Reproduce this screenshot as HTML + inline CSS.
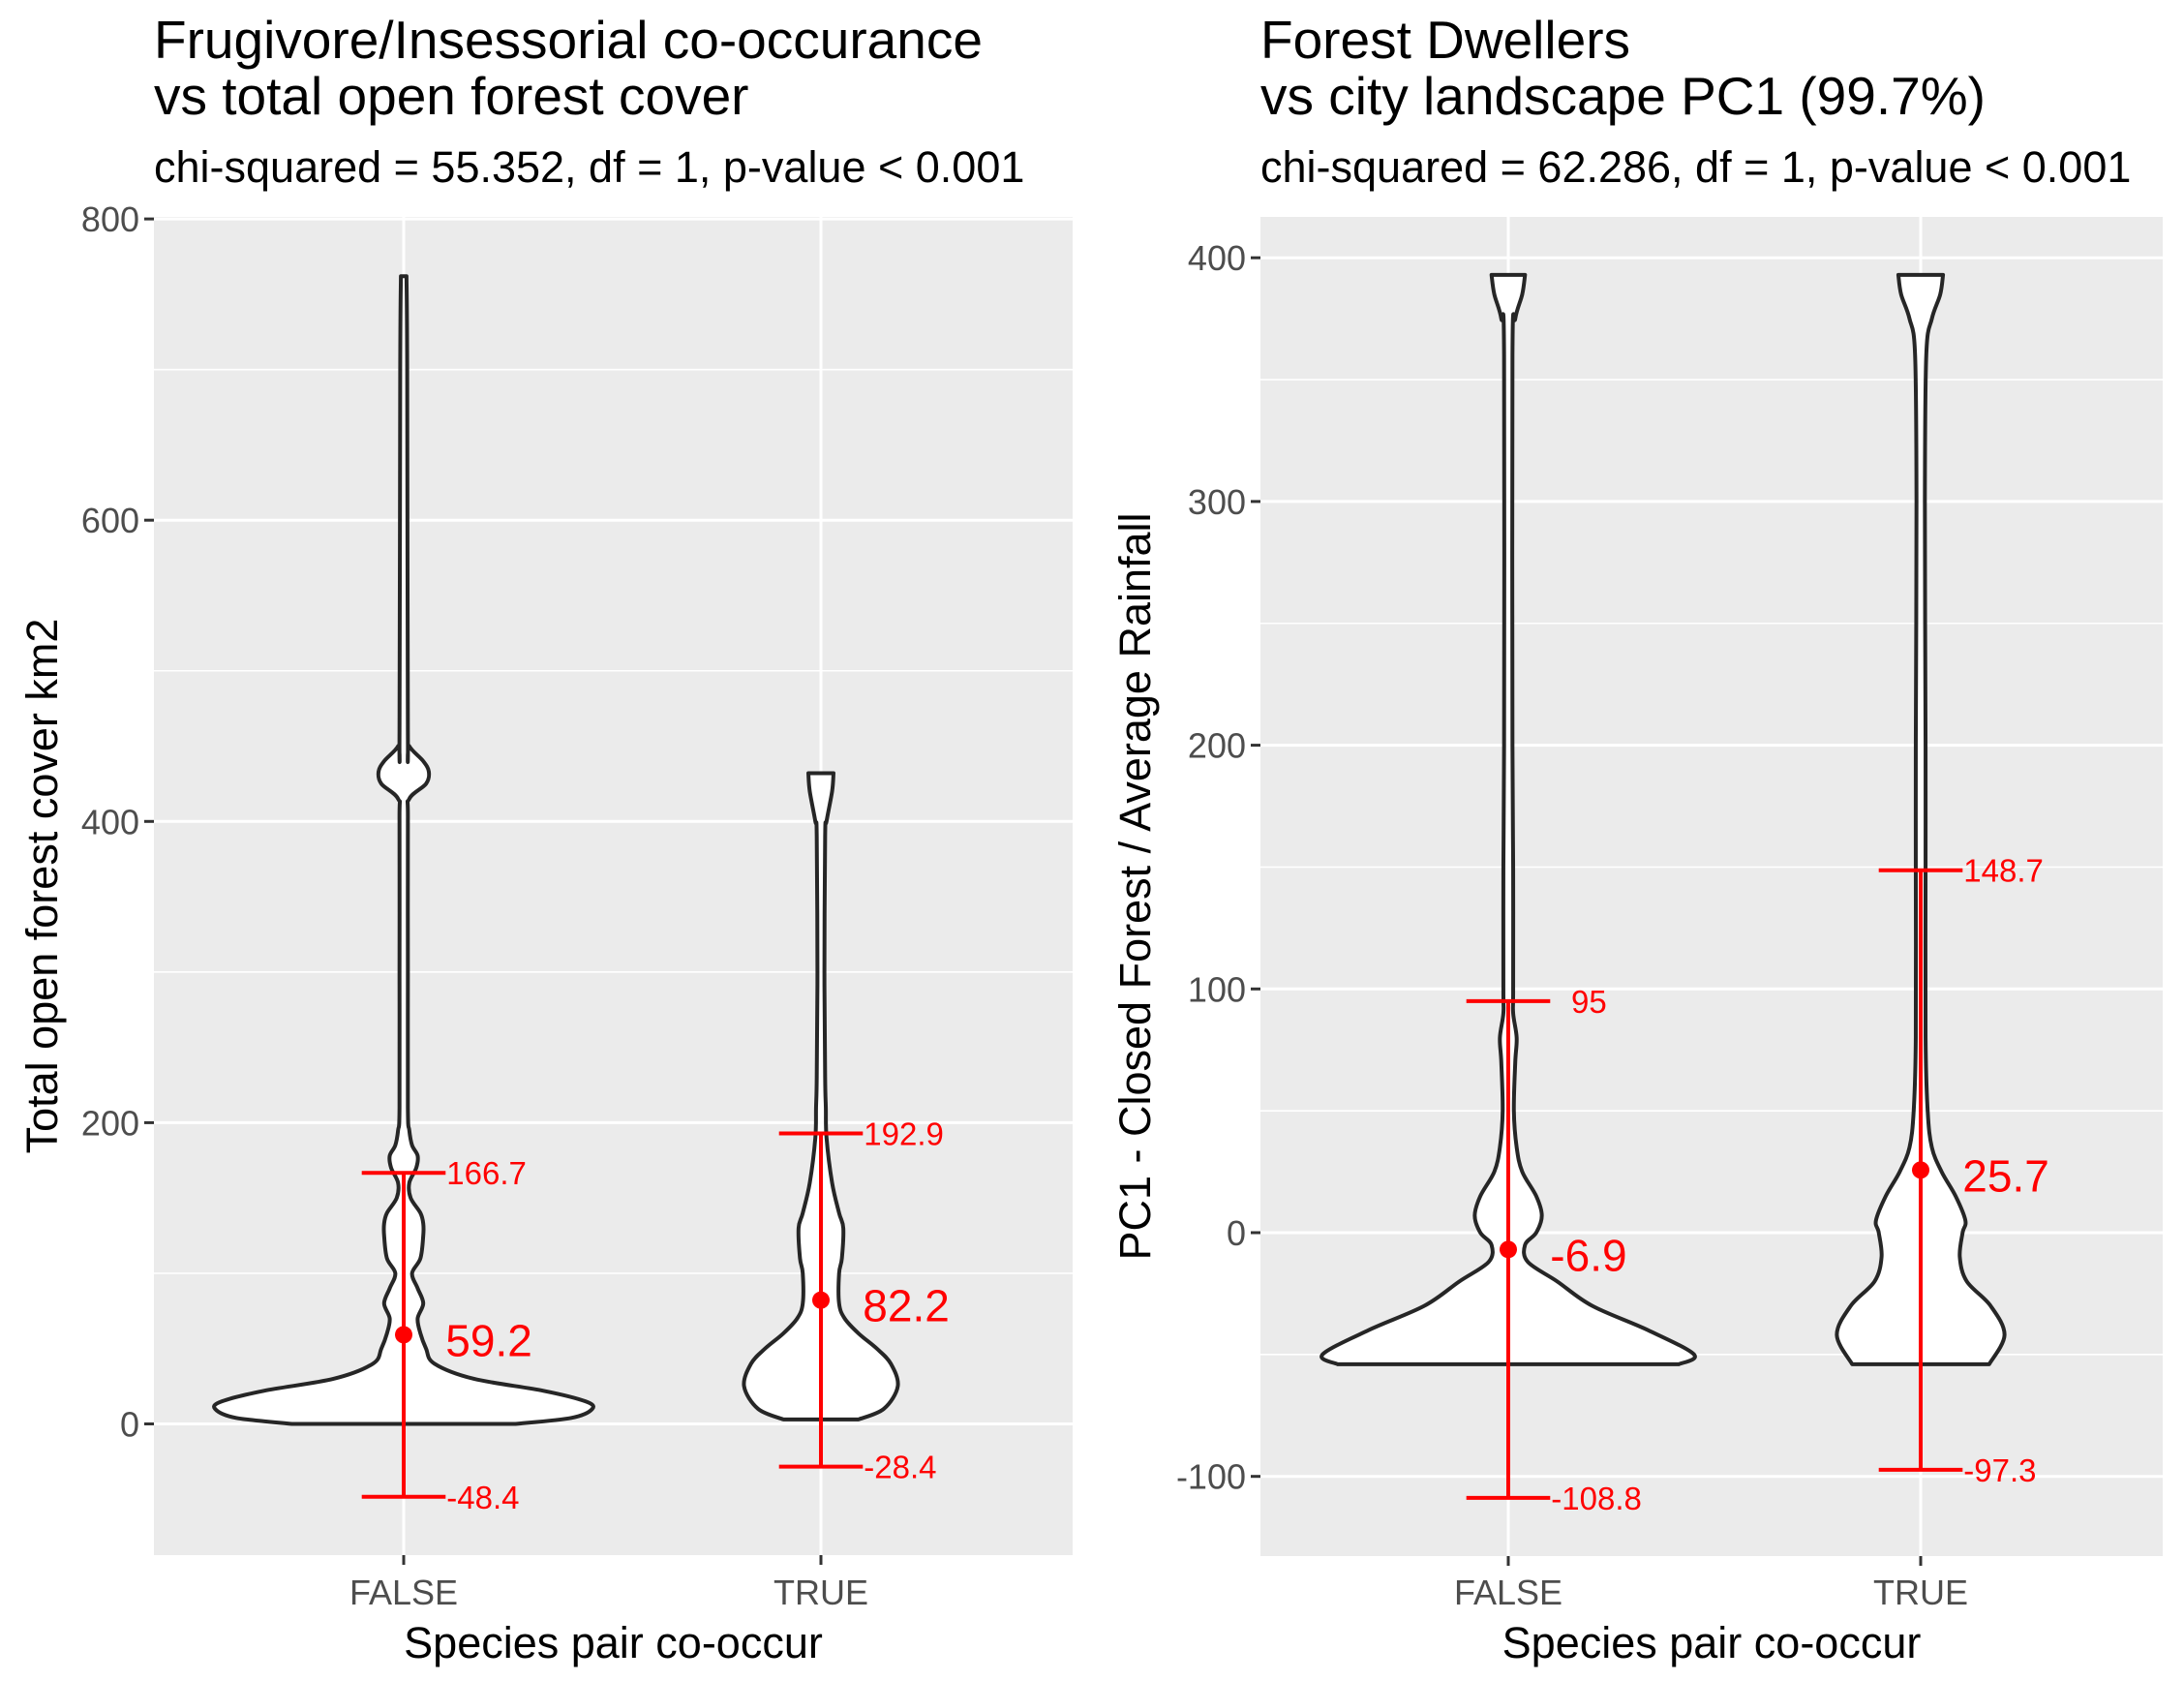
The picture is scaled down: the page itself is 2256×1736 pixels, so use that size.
<!DOCTYPE html>
<html><head><meta charset="utf-8"><style>
html,body{margin:0;padding:0;background:#fff}
svg{display:block;font-family:"Liberation Sans",Arial,sans-serif}
</style></head><body>
<svg id="fig" width="2256" height="1736" viewBox="0 0 2256 1736" xmlns="http://www.w3.org/2000/svg">
<rect width="2256" height="1736" fill="#fff"/>
</svg>
<script>
// ---- Data: left panel ----
const leftCategories = ["FALSE","TRUE"];
const leftTicks = [0,200,400,600,800];
const leftMinor = [100,300,500,700];
const leftFalseVals = [0,4,10,15,22,30,40,50,60,70,80,90,100,110,125,133,140,150,160,170,178,185,195,210,300,400,415,425,433,440,450,460,700,762];
const leftFalseDens = [80,120,135,130,100,50,22,16,12,10,14,10,6,12,14,14,12,5,4,9,10,6,4,3,3,3,4,16,18,14,4,3,2.5,2];
const leftTrueVals = [3,10,25,40,50,60,70,80,100,110,130,140,160,190,210,230,300,390,400,420,432];
const leftTrueDens = [27,45,55,50,40,27,17,13,13,15,16,13,8,4,3.5,3,2.5,3,4,8,9];
const leftMeans = [59.2,82.2];
const leftUpper = [166.7,192.9];
const leftLower = [-48.4,-28.4];
// ---- Data: right panel ----
const rightCategories = ["FALSE","TRUE"];
const rightTicks = [-100,0,100,200,300,400];
const rightMinor = [-50,50,150,250,350];
const rightFalseVals = [-54,-50,-40,-30,-20,-12,-5,0,7,15,25,35,50,70,80,90,100,150,200,360,375,385,393];
const rightFalseDens = [122,133,100,60,35,14,12,20,24,20,10,6,4,5,6,3.5,3.5,3.5,3,3,5,10,12];
const rightTrueVals = [-54,-42,-30,-20,-10,0,5,15,25,35,50,80,150,200,300,360,375,385,393];
const rightTrueDens = [49,60,50,33,28,30,32,25,15,8,5,3.5,3.5,3.5,3,4,8,14,16];
const rightMeans = [-6.9,25.7];
const rightUpper = [95,148.7];
const rightLower = [-108.8,-97.3];

const NS="http://www.w3.org/2000/svg";
const svg=document.getElementById('fig');
function mk(tag,attrs,parent){const e=document.createElementNS(NS,tag);for(const k in attrs)e.setAttribute(k,attrs[k]);(parent||svg).appendChild(e);return e;}
const S=1.4434;

function panel(cfg){
  const g=mk('g',{});
  
  
  const y=v=>cfg.y0-v*cfg.k;
  const bg=mk('rect',{x:cfg.x0,y:cfg.top,width:cfg.x1-cfg.x0,height:cfg.bot-cfg.top,fill:'#EBEBEB'},g);
  
  
  cfg.minor.forEach(v=>{const l=mk('line',{x1:cfg.x0,x2:cfg.x1,y1:y(v),y2:y(v),stroke:'#fff','stroke-width':1.6},g);
    
    });
  cfg.ticks.forEach(v=>{const l=mk('line',{x1:cfg.x0,x2:cfg.x1,y1:y(v),y2:y(v),stroke:'#fff','stroke-width':3},g);
    
    
    const t=mk('line',{x1:cfg.x0-10,x2:cfg.x0,y1:y(v),y2:y(v),stroke:'#333','stroke-width':3},g);
    
    
    const tx=mk('text',{x:cfg.x0-15,y:y(v)+13,'text-anchor':'end','font-size':36,fill:'#4D4D4D'},g);
    tx.textContent=v;
    
    });
  cfg.cats.forEach((c,i)=>{const cx=cfg.cx[i];
    const l=mk('line',{x1:cx,x2:cx,y1:cfg.top,y2:cfg.bot,stroke:'#fff','stroke-width':3},g);
    
    
    const t=mk('line',{x1:cx,x2:cx,y1:cfg.bot,y2:cfg.bot+10,stroke:'#333','stroke-width':3},g);
    
    
    const tx=mk('text',{x:cx,y:1657,'text-anchor':'middle','font-size':36,fill:'#4D4D4D'},g);
    tx.textContent=c;
    
    });
  cfg.violins.forEach((vd,i)=>{const cx=cfg.cx[i];const vals=vd[0],dens=vd[1];
    let pts=[];for(let j=0;j<vals.length;j++)pts.push([cx+dens[j]*S,y(vals[j])]);
    let lp=[];for(let j=vals.length-1;j>=0;j--)lp.push([cx-dens[j]*S,y(vals[j])]);
    const all=pts.concat(lp);
    let d='M'+all[0][0]+','+all[0][1];
    for(let j=0;j<all.length-1;j++){const p0=all[Math.max(0,j-1)],p1=all[j],p2=all[j+1],p3=all[Math.min(all.length-1,j+2)];
      if(j===vals.length-1){d+=' L'+p2[0]+','+p2[1];continue;}
      const q0=(j===vals.length)?p1:p0, q3=(j+1===vals.length-1)?p2:p3;
      d+=' C'+(p1[0]+(p2[0]-q0[0])/6)+','+(p1[1]+(p2[1]-q0[1])/6)+' '+(p2[0]-(q3[0]-p1[0])/6)+','+(p2[1]-(q3[1]-p1[1])/6)+' '+p2[0]+','+p2[1];}
    d+=' Z';
    const p=mk('path',{d:d,fill:'#fff',stroke:'#262626','stroke-width':4,'stroke-linejoin':'round'},g);
    
    });
  cfg.cats.forEach((c,i)=>{const cx=cfg.cx[i];const cw=30*S;
    const v=mk('line',{x1:cx,x2:cx,y1:y(cfg.upper[i]),y2:y(cfg.lower[i]),stroke:'#FF0000','stroke-width':4},g);
    
    
    [cfg.upper[i],cfg.lower[i]].forEach((val,k)=>{
      const cap=mk('line',{x1:cx-cw,x2:cx+cw,y1:y(val),y2:y(val),stroke:'#FF0000','stroke-width':4},g);
      
      
      const off=(cfg.upOff&&cfg.upOff[i]&&k===0)?cfg.upOff[i]:cw+1;
      const t=mk('text',{x:cx+off,y:y(val)+12,'font-size':33,fill:'#FF0000'},g);
      t.textContent=String(val);
      
      });
    const dot=mk('circle',{cx:cx,cy:y(cfg.means[i]),r:9,fill:'#FF0000'},g);
    
    
    const mt=mk('text',{x:cx+cw,y:y(cfg.means[i])+22,'font-size':46,fill:'#FF0000'},g);
    mt.textContent=cfg.means[i].toFixed(1);
    
    });
  const t1=mk('text',{x:cfg.x0,y:60,'font-size':55,fill:'#000'},g);t1.textContent=cfg.title1;
  
  
  const t2=mk('text',{x:cfg.x0,y:118,'font-size':55,fill:'#000'},g);t2.textContent=cfg.title2;
  
  
  const st=mk('text',{x:cfg.x0,y:188,'font-size':45,fill:'#000'},g);st.textContent=cfg.sub;
  
  
  const xt=mk('text',{x:(cfg.x0+cfg.x1)/2,y:1712,'text-anchor':'middle','font-size':45,fill:'#000'},g);xt.textContent='Species pair co-occur';
  
  
  const ym=(cfg.top+cfg.bot)/2;
  const yt=mk('text',{x:0,y:0,'text-anchor':'middle','font-size':45,fill:'#000',transform:'translate('+cfg.ytx+','+ym+') rotate(-90)'},g);yt.textContent=cfg.ytitle;
  
  
}
panel({name:'left-panel',x0:159,x1:1108,top:224,bot:1606,y0:1470.5,k:1.5555,cx:[417,848],
  cats:leftCategories,ticks:leftTicks,minor:leftMinor,
  violins:[[leftFalseVals,leftFalseDens],[leftTrueVals,leftTrueDens]],
  means:leftMeans,upper:leftUpper,lower:leftLower,
  title1:'Frugivore/Insessorial co-occurance',title2:'vs total open forest cover',
  sub:'chi-squared = 55.352, df = 1, p-value < 0.001',ytitle:'Total open forest cover km2',ytx:59});
panel({name:'right-panel',x0:1302,x1:2234,top:224,bot:1607,y0:1273,k:2.517,cx:[1558,1984],
  cats:rightCategories,ticks:rightTicks,minor:rightMinor,
  violins:[[rightFalseVals,rightFalseDens],[rightTrueVals,rightTrueDens]],
  means:rightMeans,upper:rightUpper,lower:rightLower,upOff:[65,0],
  title1:'Forest Dwellers',title2:'vs city landscape PC1 (99.7%)',
  sub:'chi-squared = 62.286, df = 1, p-value < 0.001',ytitle:'PC1 - Closed Forest / Average Rainfall',ytx:1188});
</script>
</body></html>
